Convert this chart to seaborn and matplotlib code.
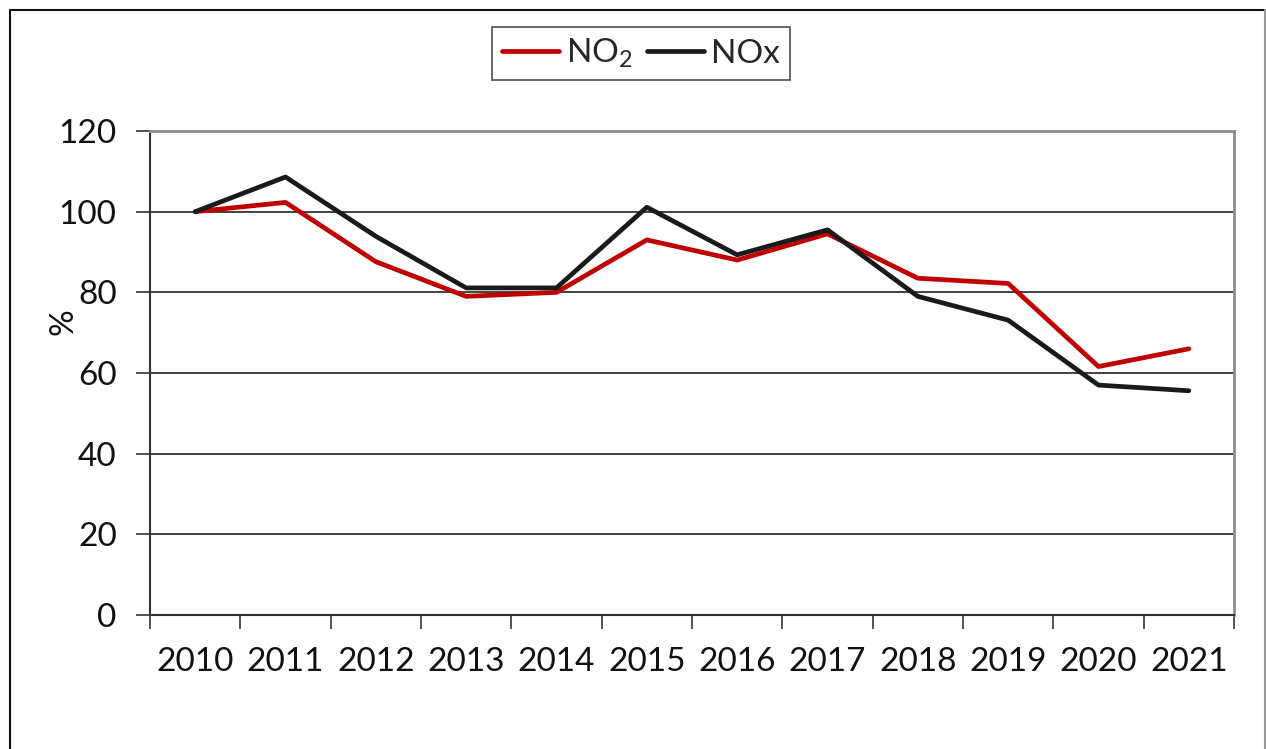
import pandas as pd
import matplotlib
matplotlib.use('Agg')
import matplotlib.pyplot as plt
from matplotlib.lines import Line2D
from matplotlib.ticker import FixedLocator
import seaborn as sns

# data (index, 2010 = 100)
years = [2010, 2011, 2012, 2013, 2014, 2015, 2016, 2017, 2018, 2019, 2020, 2021]
no2 = [100, 102.3, 87.6, 79.0, 80.0, 93.0, 88.0, 94.5, 83.5, 82.2, 61.6, 66.0]
nox = [100, 108.6, 93.9, 81.1, 81.1, 101.1, 89.3, 95.5, 79.0, 73.1, 57.0, 55.6]
series_names = ['NO$_{\\mathrm{2}}$', 'NOx']
series_colors = ['#C00000', '#1A1A1A']

df = pd.DataFrame({
    'year': years * 2,
    'value': no2 + nox,
    'series': [series_names[0]] * len(years) + [series_names[1]] * len(years),
})

sns.set_style('white')
plt.rcParams['font.family'] = ['Lato', 'DejaVu Sans']
plt.rcParams['mathtext.fontset'] = 'custom'
plt.rcParams['mathtext.rm'] = 'Lato'
plt.rcParams['mathtext.it'] = 'Lato:italic'

W, H = 1266, 749
FS = 24
fig = plt.figure(figsize=(W / 100, H / 100), dpi=100)
ax = fig.add_axes([150 / W, 1 - 615 / H, (1234 - 150) / W, (615 - 131) / H])

sns.lineplot(data=df, x='year', y='value', hue='series',
             palette=dict(zip(series_names, series_colors)),
             linewidth=3.4, ax=ax, legend=True)

ax.set_xlim(years[0] - 0.5, years[-1] + 0.5)
ax.set_ylim(0, 120)
ax.set_yticks(range(0, 121, 20))
ax.set_xticks(years)
ax.set_xticklabels([str(y) for y in years])
ax.xaxis.set_minor_locator(FixedLocator([y - 0.5 for y in years] + [years[-1] + 0.5]))

ax.tick_params(axis='x', which='major', length=0, pad=23, labelsize=FS, colors='#111111')
ax.tick_params(axis='x', which='minor', length=10, width=1.2, color='#333333', bottom=True)
ax.tick_params(axis='y', which='major', length=10, width=1.2, color='#333333',
               pad=14, labelsize=FS, labelcolor='#111111', left=True)

# horizontal gridlines
for v in range(20, 120, 20):
    ax.axhline(v, color='#333333', linewidth=1.3, zorder=0)

ax.set_xlabel('')
ax.set_ylabel('%', fontsize=FS, color='#111111')
ax.yaxis.set_label_coords((79 - 150) / 1084, (615 - 322) / 484)

for side in ['left', 'bottom']:
    ax.spines[side].set_color('#333333')
    ax.spines[side].set_linewidth(1.5)
for side in ['top', 'right']:
    ax.spines[side].set_color('#8C8C8C')
    ax.spines[side].set_linewidth(2.0)

handles, labels = ax.get_legend_handles_labels()
ax.get_legend().remove()
leg = fig.legend(handles, labels, loc='center', bbox_to_anchor=(641 / W, 1 - 53.5 / H),
                 ncol=2, fontsize=FS, frameon=True, fancybox=False,
                 handlelength=1.7, handletextpad=0.2, columnspacing=0.45,
                 borderpad=0.3, borderaxespad=0)
leg.get_frame().set_edgecolor('#222222')
leg.get_frame().set_linewidth(1.2)

# outer chart frame
fig.add_artist(Line2D([10 / W, 10 / W], [0, 1 - 10 / H], transform=fig.transFigure,
                      color='#111111', linewidth=1.5))
fig.add_artist(Line2D([10 / W, 1265 / W], [1 - 10 / H, 1 - 10 / H], transform=fig.transFigure,
                      color='#111111', linewidth=1.5))
fig.add_artist(Line2D([1265 / W, 1265 / W], [0, 1 - 10 / H], transform=fig.transFigure,
                      color='#999999', linewidth=1.5))

fig.savefig('out.png', dpi=100)
